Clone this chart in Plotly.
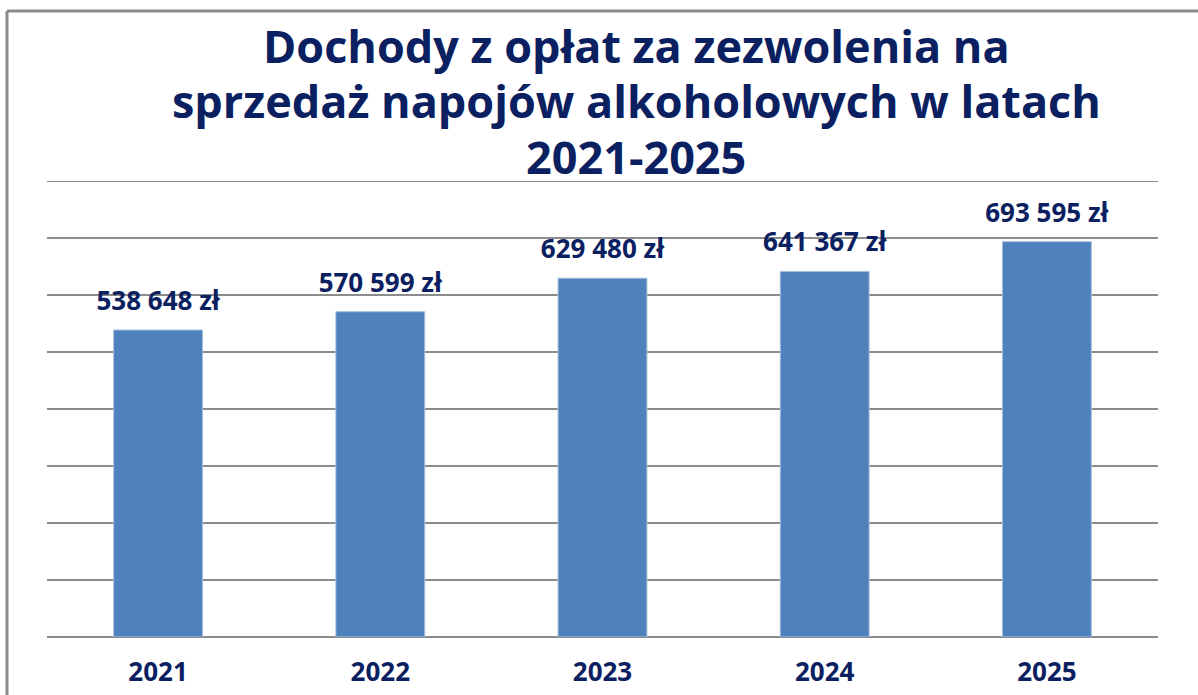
import plotly.graph_objects as go

# dane
years = ["2021", "2022", "2023", "2024", "2025"]
income = [538648, 570599, 629480, 641367, 693595]
labels = ["538 648 zł", "570 599 zł", "629 480 zł", "641 367 zł", "693 595 zł"]

title_lines = ["Dochody z opłat za zezwolenia na",
               "sprzedaż napojów alkoholowych w latach",
               "2021-2025"]
title_y = [1.2982, 1.1776, 1.0548]

navy = "#0a2060"
bar_color = "#4f81bd"
grid_color = "#8c8c8c"
font_family = "Open Sans"

fig = go.Figure()
fig.add_trace(go.Bar(
    x=years, y=income,
    marker=dict(color=bar_color, line=dict(color="#a7bfdc", width=1)),
    width=0.4, hoverinfo="skip",
))

# etykiety wartosci nad slupkami (niewidoczne markery odsuwaja tekst od slupka)
fig.add_trace(go.Scatter(
    x=years, y=income, text=labels, mode="markers+text", textposition="top center",
    marker=dict(size=20, color="rgba(0,0,0,0)"), hoverinfo="skip", cliponaxis=False,
    textfont=dict(family=font_family, size=26, color=navy, weight="bold"),
))

# tytul
for line, ty in zip(title_lines, title_y):
    fig.add_annotation(x=0.5302, y=ty, xref="paper", yref="paper", text=line,
                       showarrow=False, xanchor="center", yanchor="middle",
                       font=dict(family=font_family, size=45, color=navy, weight="bold"))

fig.update_layout(
    width=1198, height=695,
    margin=dict(l=47, r=40, t=181, b=58, autoexpand=False),
    paper_bgcolor="white", plot_bgcolor="white",
    showlegend=False,
    xaxis=dict(type="category", categoryarray=years, range=[-0.5, len(years) - 0.5],
               automargin=False, showgrid=False, showline=False, ticks="",
               ticklabelstandoff=17,
               tickfont=dict(family=font_family, size=26, color=navy, weight="bold")),
    yaxis=dict(range=[0, 800000], dtick=100000, showticklabels=False, automargin=False,
               showgrid=True, gridcolor=grid_color, gridwidth=2,
               zeroline=True, zerolinecolor=grid_color, zerolinewidth=2),
)

# gorna linia siatki (800 000)
fig.add_shape(type="line", xref="paper", yref="y", x0=0, x1=1, y0=800000, y1=800000,
              line=dict(color=grid_color, width=2), layer="below")

# ramka wykresu (lewa i gorna krawedz)
fig.add_shape(type="line", xref="paper", yref="paper",
              x0=(7 - 47) / 1111, x1=(7 - 47) / 1111, y0=-0.2, y1=(637 - 11) / 456,
              line=dict(color=grid_color, width=3))
fig.add_shape(type="line", xref="paper", yref="paper",
              x0=(7 - 47) / 1111, x1=1.1, y0=(637 - 11) / 456, y1=(637 - 11) / 456,
              line=dict(color=grid_color, width=3))

fig.write_html("out.html", config={"displayModeBar": False},
               post_script="document.body.style.margin='0';")
